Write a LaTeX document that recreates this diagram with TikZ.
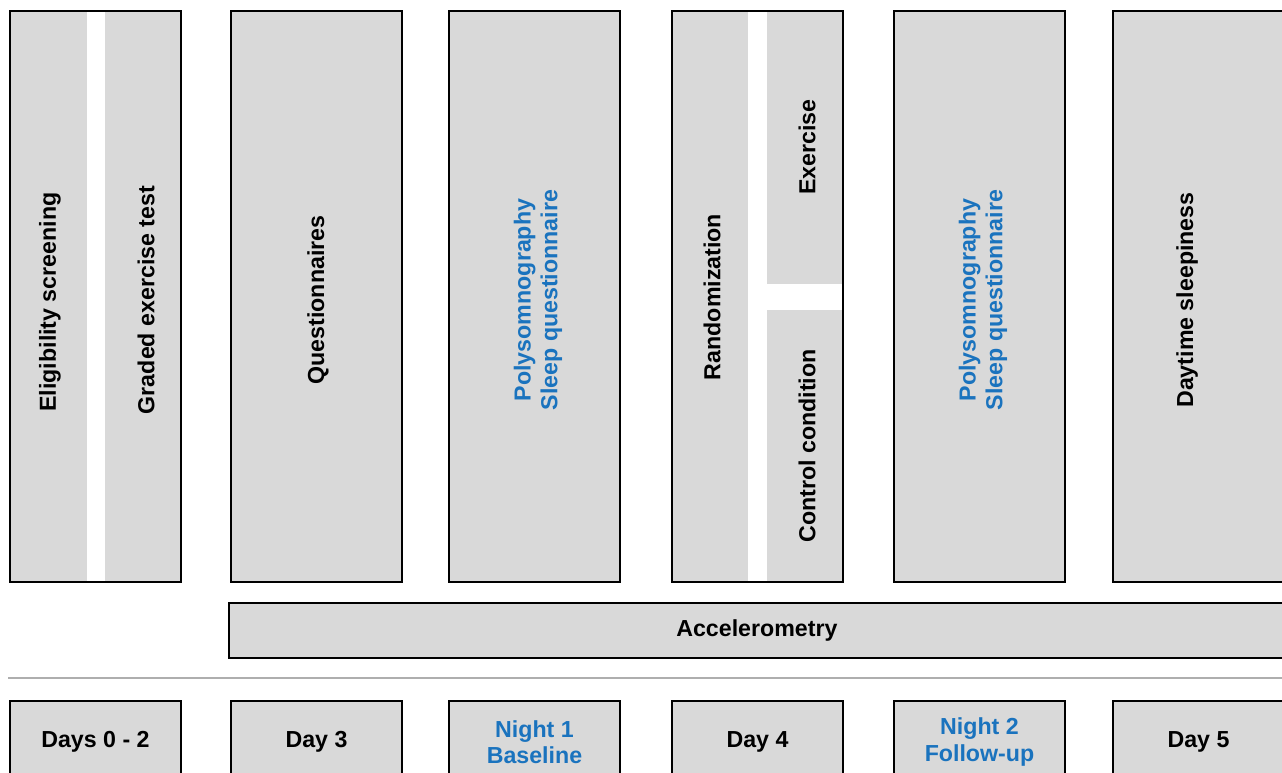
\documentclass[tikz,border=0pt]{standalone}
\usepackage{fontspec}
\setmainfont{Liberation Sans}
\usetikzlibrary{positioning}
\definecolor{boxgray}{HTML}{D9D9D9}
\definecolor{nightblue}{HTML}{1A73BE}
\definecolor{rulegray}{HTML}{AEAEAE}

\begin{document}
\begin{tikzpicture}[x=0.02cm, y=-0.02cm,
    stagebox/.style={fill=boxgray, draw=black, line width=1pt, inner sep=0pt, outer sep=0pt,
        minimum width=3.42cm, minimum height=11.42cm, anchor=north west},
    daybox/.style={fill=boxgray, draw=black, line width=1pt, inner sep=0pt, outer sep=0pt,
        minimum width=3.42cm, minimum height=1.64cm, anchor=north west,
        align=center, font=\bfseries\fontsize{13.2}{15}\selectfont},
    vlabel/.style={rotate=90, align=center, font=\bfseries\fontsize{13.2}{15.3}\selectfont}]
    \useasboundingbox (0,0) rectangle (1282,773);

    % Stage columns
    \foreach \x/\name in {10/s1, 231/s2, 449/s3, 672/s4, 894/s5, 1113/s6} {
        \node[stagebox] (\name) at (\x,11) {};
    }

    % Split columns
    \fill[white] (87,12) rectangle (105,581);
    \fill[white] (748,12) rectangle (767,581);
    \fill[white] (767,284) rectangle (842,310);
    \draw[line width=1pt] (s1.north west) rectangle (s1.south east);
    \draw[line width=1pt] (s4.north west) rectangle (s4.south east);

    % Column labels
    \node[vlabel] (elig) at (50,302) {Eligibility screening};
    \node[vlabel] (graded) at (146,300) {Graded exercise test};
    \node[vlabel] (quest) at (318,300) {Questionnaires};
    \node[vlabel, text=nightblue] (psg1) at (538,300) {Polysomnography\\Sleep questionnaire};
    \node[vlabel] (rand) at (712,297) {Randomization};
    \node[vlabel] (exer) at (807,147) {Exercise};
    \node[vlabel] (ctrl) at (807,446) {Control condition};
    \node[vlabel, text=nightblue] (psg2) at (983,300) {Polysomnography\\Sleep questionnaire};
    \node[vlabel] (sleepy) at (1187,300) {Daytime sleepiness};

    % Accelerometry bar
    \node[fill=boxgray, draw=black, line width=1pt, inner sep=0pt, outer sep=0pt, anchor=north west,
        minimum width=21.12cm, minimum height=1.1cm,
        font=\bfseries\fontsize{13.2}{15}\selectfont] (accel) at (229,603) {Accelerometry};

    % Divider
    \draw[rulegray, line width=1pt] (8,678) -- (1290,678);

    % Timeline
    \foreach \x/\name/\col/\txt in {10/d1/black/{Days 0 - 2}, 231/d2/black/{Day 3},
        449/d3/nightblue/{Night 1\\Baseline}, 672/d4/black/{Day 4},
        894/d5/nightblue/{Night 2\\Follow-up}, 1113/d6/black/{Day 5}} {
        \node[daybox, text=\col] (\name) at (\x,701) {\txt};
    }
\end{tikzpicture}
\end{document}
